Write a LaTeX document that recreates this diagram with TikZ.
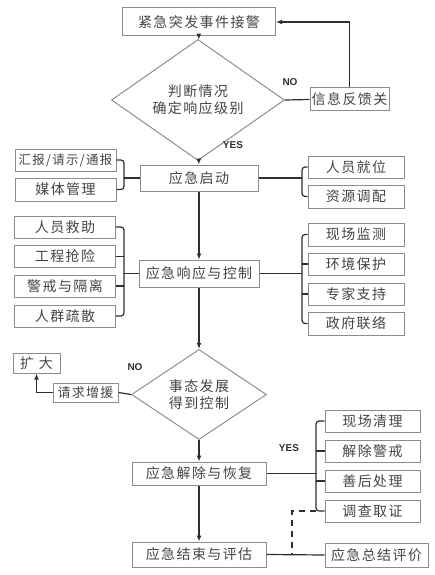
\documentclass[tikz,border=0pt]{standalone}
\usepackage{fontspec}
\setsansfont{Liberation Sans}
\newfontfamily\cjk[LetterSpace=10]{Noto Sans CJK SC}
\usetikzlibrary{positioning, shapes.geometric, arrows.meta}

\definecolor{boxgray}{HTML}{8C8C8C}
\definecolor{linegray}{HTML}{2E2E2E}
\definecolor{txtgray}{HTML}{444444}

\tikzset{
    box/.style={draw=boxgray, line width=1pt, inner sep=0pt, text=txtgray,
        font=\cjk\fontsize{14}{17}\selectfont},
    mainbox/.style={box, minimum height=25pt},
    leftbox/.style={box, minimum width=101pt, minimum height=22pt},
    rightbox/.style={box, minimum width=96pt, minimum height=22pt},
    decision/.style={box, diamond, align=center},
    line/.style={draw=linegray, line width=1.2pt},
    arrow/.style={line, -{Latex[length=6pt,width=5pt]}},
    bracket/.style={line, rounded corners=3pt},
    answer/.style={font=\sffamily\bfseries\fontsize{10}{12}\selectfont, text=linegray}
}

\begin{document}
\begin{tikzpicture}[x=1pt, y=-1pt]
    \useasboundingbox (0,0) rectangle (434,575);

    % x positions of the brackets
    \coordinate (lb) at (124,0);
    \coordinate (rb) at (302,0);
    \coordinate (rc) at (316,0);

    % Main column
    \node[mainbox, minimum width=153pt, minimum height=28pt] (alarm) at (199,22) {紧急突发事件接警};
    \node[decision, minimum width=173pt, minimum height=75pt] (judge) at (198,100) {判断情况\\确定响应级别};
    \node[mainbox, minimum width=118pt, minimum height=26pt] (start) at (199,178) {应急启动};
    \node[mainbox, minimum width=120pt, minimum height=27pt] (respond) at (199,273.5) {应急响应与控制};
    \node[decision, minimum width=135pt, minimum height=67pt] (control) at (199,394.5) {事态发展\\得到控制};
    \node[mainbox, minimum width=134pt, minimum height=23pt] (restore) at (199,473.5) {应急解除与恢复};
    \node[mainbox, minimum width=134pt] (finish) at (199,554.5) {应急结束与评估};

    % Feedback loop
    \node[box, minimum width=79pt, minimum height=23pt] (feedback) at (349.5,99.5) {信息反馈关};

    % Side boxes of the start
    \node[leftbox, font=\cjk\fontsize{12.5}{15}\selectfont] (report) at (65.5,160) {汇报/请示/通报};
    \node[leftbox, minimum height=23pt] (media) at (65.5,189.5) {媒体管理};
    \node[rightbox] (staff) at (356,167) {人员就位};
    \node[rightbox, minimum height=23pt] (resource) at (356,196.5) {资源调配};

    % Side boxes of the response
    \node[leftbox] (rescue) at (65,227) {人员救助};
    \node[leftbox] (repair) at (65,256.5) {工程抢险};
    \node[leftbox] (guard) at (65,286) {警戒与隔离};
    \node[leftbox] (evac) at (65,316) {人群疏散};
    \node[rightbox, minimum height=23pt] (monitor) at (356,234.5) {现场监测};
    \node[rightbox] (envprot) at (356,264) {环境保护};
    \node[rightbox] (expert) at (356,294) {专家支持};
    \node[rightbox, minimum height=23pt] (govt) at (356,323.5) {政府联络};

    % Escalation
    \node[box, minimum width=65pt, minimum height=19pt, font=\cjk\fontsize{13}{15}\selectfont] (reinforce) at (85.5,392.5) {请求增援};
    \node[box, minimum width=47pt, minimum height=20pt] (expand) at (36.5,363) {扩\ 大};

    % Side boxes of the recovery
    \node[rightbox, minimum width=95pt] (clean) at (372.5,421) {现场清理};
    \node[rightbox, minimum width=95pt] (lift) at (372.5,451) {解除警戒};
    \node[rightbox, minimum width=95pt] (after) at (372.5,481) {善后处理};
    \node[rightbox, minimum width=95pt] (invest) at (372.5,511) {调查取证};
    \node[box, minimum width=103pt, minimum height=24pt] (summary) at (376.5,555) {应急总结评价};

    % Labels
    \node[answer] (no1) at (290,82) {NO};
    \node[answer] (yes1) at (233,145) {YES};
    \node[answer] (no2) at (135,367) {NO};
    \node[answer] (yes2) at (289,448) {YES};

    % Main flow
    \draw[arrow] (alarm) -- (judge);
    \draw[arrow] (judge) -- (start);
    \draw[arrow] (start) -- (respond);
    \draw[arrow] (respond) -- (control);
    \draw[arrow] (control) -- (restore);
    \draw[arrow] (restore) -- (finish);

    % NO branches
    \draw[line] (judge.east) -- (feedback.west);
    \draw[arrow] (feedback.north) |- (alarm.east);
    \draw[line] (control.west) -- (reinforce.east);
    \draw[arrow] (reinforce.west) -| (expand.south);

    % Brackets of the start
    \draw[bracket] (report.east) -| (lb |- start) |- (media.east);
    \draw[line] (start.west) -- (lb |- start);
    \draw[bracket] (staff.west) -| (rb |- start) |- (resource.west);
    \draw[line] (start.east) -- (rb |- start);

    % Brackets of the response
    \draw[bracket] (rescue.east) -| (lb |- respond) |- (evac.east);
    \draw[line] (repair.east) -- (repair.east -| lb);
    \draw[line] (guard.east) -- (guard.east -| lb);
    \draw[line] (respond.west) -- (lb |- respond);
    \draw[bracket] (monitor.west) -| (rb |- respond) |- (govt.west);
    \draw[line] (envprot.west) -- (envprot.west -| rb);
    \draw[line] (expert.west) -- (expert.west -| rb);
    \draw[line] (respond.east) -- (rb |- respond);

    % Brackets of the recovery
    \draw[bracket] (clean.west) -| (rc |- restore) |- (invest.west);
    \draw[line] (lift.west) -- (lift.west -| rc);
    \draw[line] (after.west) -- (after.west -| rc);
    \draw[line] (restore.east) -- (rc |- restore);

    % Evaluation
    \coordinate (dash) at (292,555);
    \draw[line] (finish.east) -- (summary.west);
    \draw[line, dash pattern=on 6pt off 5pt] (invest.west -| rc) -| (dash);
\end{tikzpicture}
\end{document}
